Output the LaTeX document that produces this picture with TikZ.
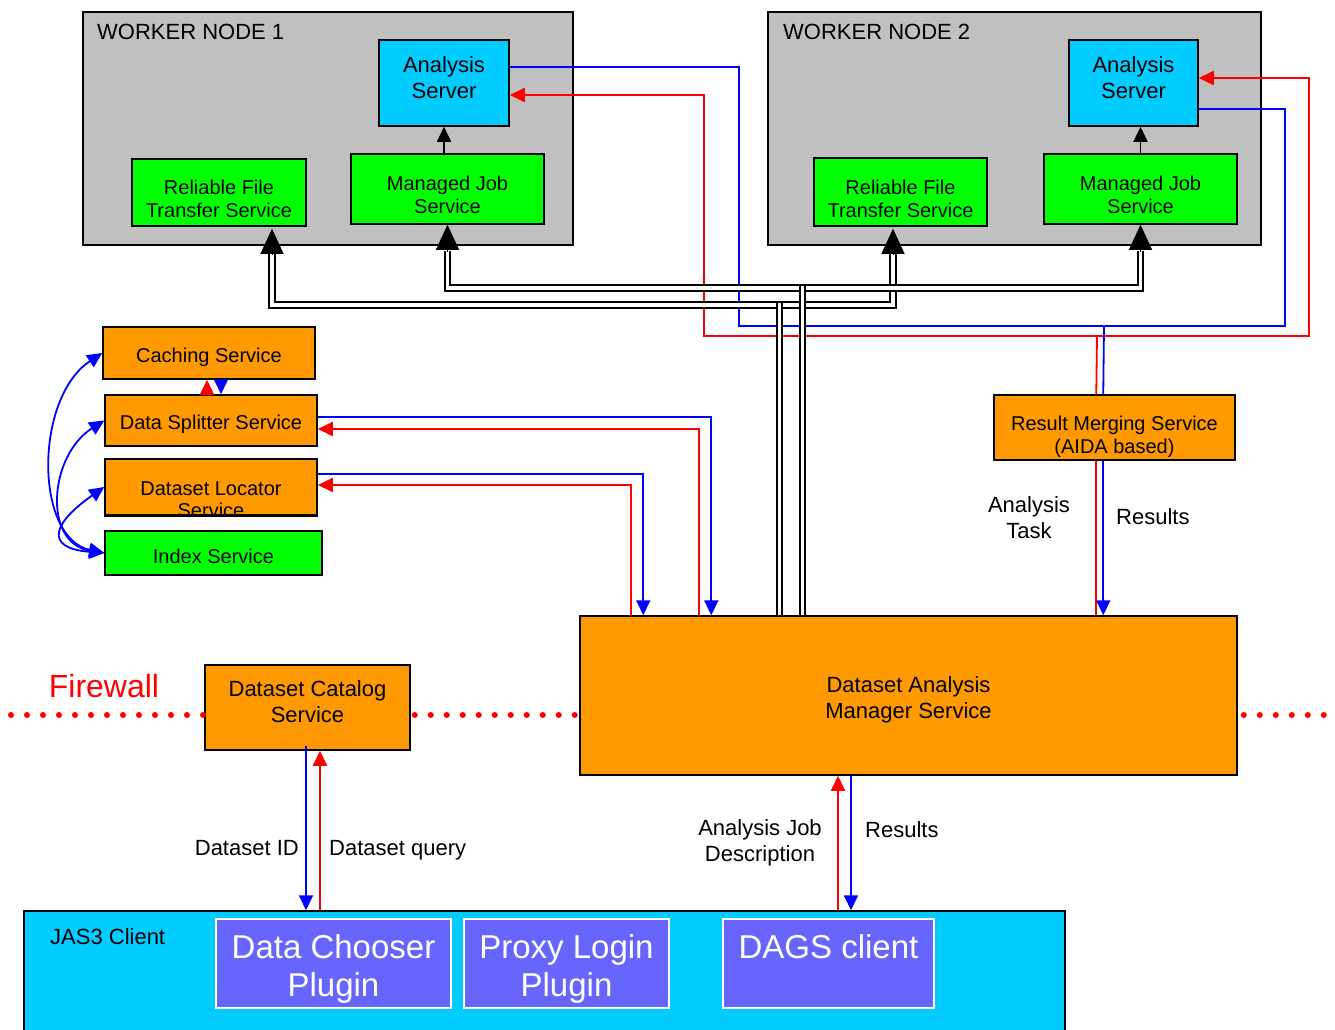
\documentclass[tikz,border=0pt]{standalone}
\usepackage{fontspec}
\setmainfont{Liberation Sans}
\usetikzlibrary{arrows.meta,calc}
\definecolor{wngray}{HTML}{C0C0C0}
\definecolor{ascyan}{HTML}{00CCFF}
\definecolor{svgreen}{HTML}{00FF00}
\definecolor{svorange}{HTML}{FF9900}
\definecolor{plugblue}{HTML}{6666FF}

\begin{document}
\begin{tikzpicture}[x=1pt, y=-1pt,
    >={Triangle[length=15pt,width=14pt]},
    box/.style={draw=black, line width=1.5pt, inner sep=0pt},
    worker/.style={box, fill=wngray},
    server/.style={box, fill=ascyan},
    gridsvc/.style={box, fill=svgreen},
    dasvc/.style={box, fill=svorange},
    boxtext/.style={inner sep=0pt, align=center, font=\fontsize{20}{23}\selectfont},
    bigtext/.style={inner sep=0pt, align=center, font=\fontsize{22}{26}\selectfont},
    plugin/.style={draw=white, line width=1.5pt, fill=plugblue, inner sep=0pt},
    plugtext/.style={text=white, align=center, inner sep=0pt, font=\fontsize{33}{38}\selectfont},
    lbl/.style={inner sep=0pt, align=center, font=\fontsize{22}{26}\selectfont},
    task/.style={draw=red, line width=1.8pt},
    result/.style={draw=blue, line width=1.8pt},
    bus/.style={draw=black, line width=2pt, double=white, double distance=3.5pt},
    bustip/.style={draw=black, line width=1pt, -{Triangle[length=25pt,width=23pt]}},
    firewall/.style={draw=red, line width=6pt, line cap=round, dash pattern=on 0pt off 16pt}]
    \useasboundingbox (0,0) rectangle (1335,1030);

    % worker nodes
    \node[worker, minimum width=490pt, minimum height=233pt] (wn1) at (328,128.5) {};
    \node[worker, minimum width=493pt, minimum height=233pt] (wn2) at (1014.5,128.5) {};
    \node[lbl, anchor=base west] (wn1title) at (97,40) {WORKER NODE 1};
    \node[lbl, anchor=base west] (wn2title) at (783,40) {WORKER NODE 2};

    \node[server, minimum width=130pt, minimum height=86pt,
      label={[bigtext, yshift=5pt]center:Analysis\\Server}] (as1) at (444,83) {};
    \node[gridsvc, minimum width=193pt, minimum height=70pt,
      label={[boxtext, yshift=-6pt]center:Managed Job\\Service}] (mjs1) at (447.5,189) {};
    \node[gridsvc, minimum width=174pt, minimum height=67pt,
      label={[boxtext, yshift=-6.5pt]center:Reliable File\\Transfer Service}] (rft1) at (219,192.5) {};
    \node[server, minimum width=129pt, minimum height=86pt,
      label={[bigtext, yshift=5pt]center:Analysis\\Server}] (as2) at (1133.5,83) {};
    \node[gridsvc, minimum width=193pt, minimum height=70pt,
      label={[boxtext, yshift=-6pt]center:Managed Job\\Service}] (mjs2) at (1140.5,189) {};
    \node[gridsvc, minimum width=173pt, minimum height=68pt,
      label={[boxtext, yshift=-6.5pt]center:Reliable File\\Transfer Service}] (rft2) at (900.5,192) {};

    \draw[->, line width=1.4pt] (mjs1.north -| as1.south) -- (as1.south);
    \draw[->, line width=1.4pt] (mjs2.north) -- (mjs2.north |- as2.south);

    % data services
    \node[dasvc, minimum width=212pt, minimum height=52pt,
      label={[boxtext, yshift=-4pt]center:Caching Service}] (cs) at (209,353) {};
    \node[dasvc, minimum width=212pt, minimum height=51pt,
      label={[boxtext, yshift=-4pt]center:Data Splitter Service}] (dss) at (211,420.5) {};
    \node[dasvc, minimum width=212pt, minimum height=56pt] (dls) at (211,487) {};
    \begin{scope}
      \clip (dls.south west) rectangle (dls.north east);
      \node[boxtext, font=\fontsize{20}{22}\selectfont] (dlstext) at (211,500) {Dataset Locator\\Service};
    \end{scope}
    \draw[line width=1.5pt] (dls.south west) -- (dls.south east);
    \node[gridsvc, minimum width=217pt, minimum height=44pt,
      label={[boxtext, yshift=-3pt]center:Index Service}] (is) at (213.5,553) {};

    \node[dasvc, minimum width=241pt, minimum height=65pt,
      label={[boxtext, yshift=-9pt]center:Result Merging Service\\(AIDA based)}] (rms) at (1114.5,427.5) {};
    \node[dasvc, minimum width=205pt, minimum height=85pt,
      label={[bigtext, yshift=6pt]center:Dataset Catalog\\Service}] (dcs) at (307.5,707.5) {};
    \node[dasvc, minimum width=657pt, minimum height=159pt,
      label={[bigtext, yshift=-4pt]center:Dataset Analysis\\Manager Service}] (dams) at (908.5,695.5) {};

    % client
    \node[box, fill=ascyan, minimum width=1041pt, minimum height=140pt] (jas) at (544.5,981) {};
    \node[lbl, anchor=base west] (jastitle) at (50,944) {JAS3 Client};
    \node[plugin, minimum width=235pt, minimum height=89pt] (dcp) at (333.5,963.5) {};
    \node[plugin, minimum width=205pt, minimum height=89pt] (plp) at (566.5,963.5) {};
    \node[plugin, minimum width=211pt, minimum height=89pt] (dagc) at (828.5,963.5) {};
    \node[plugtext] (dcptext) at ($(dcp.center)+(0,5)$) {Data Chooser\\Plugin};
    \node[plugtext] (plptext) at ($(plp.center)+(0,5)$) {Proxy Login\\Plugin};
    \node[plugtext, anchor=base] (dagctext) at ($(dagc.north)+(0,40)$) {DAGS client};

    % firewall
    \coordinate (fwleft) at (11,715);
    \coordinate (fwright) at (1330,715);
    \draw[firewall] (fwleft) -- ([yshift=-7.5pt]dcs.west);
    \draw[firewall] ([xshift=4pt,yshift=-7.5pt]dcs.east) -- ([yshift=-19.5pt]dams.west);
    \draw[firewall] ([xshift=6pt,yshift=-19.5pt]dams.east) -- (fwright);
    \node[lbl, text=red, font=\fontsize{32}{38}\selectfont, anchor=base] (fwtext) at (104,697) {Firewall};

    % index service links
    \draw[result, <->] (is.west) .. controls +(-70,-15) and +(-68,45) .. (cs.west);
    \draw[result, <->] (is.west) .. controls +(-62,-10) and +(-55,35) .. (dss.west);
    \draw[result, <->] (is.west) .. controls +(-62,-5) and +(-50,35) .. (dls.west);
    \draw[task, ->] ([xshift=-4pt]dss.north) -- ([xshift=-4pt]dss.north |- cs.south);
    \draw[result, ->] ([xshift=10pt]dss.north |- cs.south) -- ([xshift=10pt]dss.north);

    % splitter and locator
    \draw[result, ->] ($(dss.east)+(0,-3.5)$) -| ([xshift=132pt]dams.north west);
    \draw[task, ->] ([xshift=120pt]dams.north west) |- ($(dss.east)+(0,8.5)$);
    \draw[result, ->] ($(dls.east)+(0,-13)$) -| ([xshift=64pt]dams.north west);
    \draw[task, ->] ([xshift=52pt]dams.north west) |- ($(dls.east)+(0,-2)$);

    % analysis tasks and results
    \coordinate (taskjoin) at (1097,336);
    \coordinate (taskleft) at (704,336);
    \coordinate (taskright) at (1309,336);
    \draw[task] ([xshift=517pt]dams.north west) -- ([xshift=103pt]rms.south west);
    \draw[task, ->] ([xshift=103pt]rms.north west) -- (taskjoin) -- (taskleft) |- ($(as1.east)+(0,12)$);
    \draw[task, ->] (taskjoin) -- (taskright) |- ($(as2.east)+(0,-5)$);
    \coordinate (resjoin) at (1104,326);
    \coordinate (resleft) at (739,326);
    \coordinate (resright) at (1285,326);
    \draw[result] ($(as1.east)+(0,-16)$) -| (resleft) -- (resright) |- ($(as2.east)+(0,26)$);
    \draw[result] (resjoin) -- ([xshift=110pt]rms.north west);
    \draw[result, ->] ([xshift=110pt]rms.south west) -- ([xshift=524pt]dams.north west);
    \node[lbl] (tasklbl) at (1029,518) {Analysis\\Task};
    \node[lbl, anchor=base west] (reslbl) at (1116,524) {Results};

    % catalog and client
    \draw[result, ->] ([xshift=-1.5pt,yshift=5pt]dcs.south) -- ([xshift=-1.5pt]dcs.south |- jas.north);
    \draw[task, ->] ([xshift=12.5pt]dcs.south |- jas.north) -- ([xshift=12.5pt]dcs.south);
    \draw[task, ->] ([xshift=-70.5pt]dams.south |- jas.north) -- ([xshift=-70.5pt]dams.south);
    \draw[result, ->] ([xshift=-57.5pt]dams.south) -- ([xshift=-57.5pt]dams.south |- jas.north);
    \node[lbl, anchor=base east] (idlbl) at (299,855) {Dataset ID};
    \node[lbl, anchor=base west] (querylbl) at (329,855) {Dataset query};
    \node[lbl] (joblbl) at (760,843) {Analysis Job\\Description};
    \node[lbl, anchor=base west] (clientres) at (865,837) {Results};

    % job submission buses
    \draw[bus] ([xshift=53pt,yshift=-26pt]rft1.south) -- ++(0,52) -| ([xshift=-7.5pt,yshift=-26pt]rft2.south);
    \draw[bus] ([yshift=-26pt]mjs1.south) -- ++(0,37) -| ([yshift=-26pt]mjs2.south);
    \draw[bus] ([xshift=200pt]dams.north west) -- ++(0,-312);
    \draw[bus] ([xshift=223pt]dams.north west) -- ++(0,-329);
    \draw[bustip] ([xshift=53pt,yshift=-27pt]rft1.south) -- ([xshift=53pt,yshift=-2pt]rft1.south);
    \draw[bustip] ([xshift=-7.5pt,yshift=-27pt]rft2.south) -- ([xshift=-7.5pt,yshift=-2pt]rft2.south);
    \draw[bustip] ([yshift=-27pt]mjs1.south) -- (mjs1.south);
    \draw[bustip] ([yshift=-27pt]mjs2.south) -- (mjs2.south);
\end{tikzpicture}
\end{document}
